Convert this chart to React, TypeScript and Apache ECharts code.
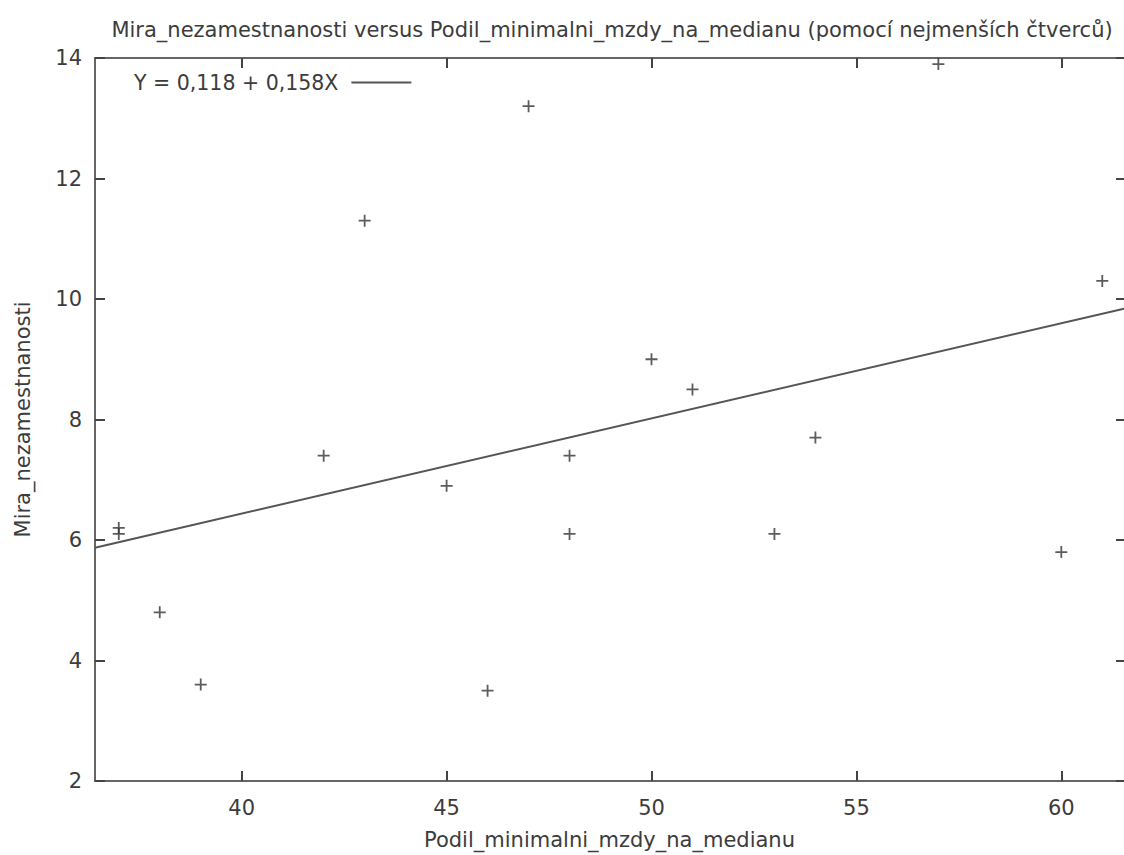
import React, { useEffect, useRef } from "react";
import * as echarts from "echarts";

const xValues = [37, 37, 38, 39, 42, 43, 45, 46, 47, 48, 48, 50, 51, 53, 54, 57, 60, 61];
const yValues = [6.2, 6.1, 4.8, 3.6, 7.4, 11.3, 6.9, 3.5, 13.2, 7.4, 6.1, 9.0, 8.5, 6.1, 7.7, 13.9, 5.8, 10.3];
const intercept = 0.118;
const slope = 0.158;
const xRange = [36.42, 61.53];
const yRange = [2, 14];
const xTicks = [40, 45, 50, 55, 60];
const titleText = "Mira_nezamestnanosti versus Podil_minimalni_mzdy_na_medianu (pomocí nejmenších čtverců)";
const xName = "Podil_minimalni_mzdy_na_medianu";
const yName = "Mira_nezamestnanosti";
const fitName = "Y = 0,118 + 0,158X";

const FONT = "DejaVu Sans";
const FS = 21;
const TXT = "#3c3c3c";
const AX = "#666666";
const PLUS = "path://M4.25,0H5.75V4.25H10V5.75H5.75V10H4.25V5.75H0V4.25H4.25Z";

export default function App() {
  const ref = useRef<HTMLDivElement>(null);
  useEffect(() => {
    if (!ref.current) return;
    const chart = echarts.init(ref.current, undefined, { renderer: "svg" });
    const fitLine = xRange.map((x) => [x, intercept + slope * x]);
    const pts = xValues.map((x, i) => [x, yValues[i]]);
    chart.setOption({
      animation: false,
      backgroundColor: "#ffffff",
      title: {
        text: titleText,
        left: 607,
        textAlign: "center",
        top: 14,
        textStyle: { fontFamily: FONT, fontSize: FS, fontWeight: "normal", color: TXT },
      },
      legend: {
        left: 129,
        top: 67,
        align: "right",
        itemWidth: 60,
        itemHeight: 2,
        icon: "rect",
        data: [{ name: fitName, itemStyle: { color: "#555555" } }],
        textStyle: { fontFamily: FONT, fontSize: 20.5, color: TXT, padding: [0, 8, 0, 0] },
        selectedMode: false,
      },
      grid: { left: 95, right: 0, top: 58, bottom: 72, containLabel: false },
      xAxis: [
        {
          type: "value",
          min: xRange[0],
          max: xRange[1],
          position: "bottom",
          name: xName,
          nameLocation: "middle",
          nameGap: 48,
          nameTextStyle: { fontFamily: FONT, fontSize: FS, color: TXT },
          axisLine: { show: true, onZero: false, lineStyle: { color: AX, width: 2 } },
          axisTick: { show: true, inside: true, length: 10, customValues: xTicks, lineStyle: { color: "#444", width: 2 } },
          axisLabel: { margin: 16, fontFamily: FONT, fontSize: FS, color: TXT, customValues: xTicks, showMinLabel: true, showMaxLabel: true },
          splitLine: { show: false },
        },
        {
          type: "value",
          min: xRange[0],
          max: xRange[1],
          position: "top",
          axisLine: { show: true, onZero: false, lineStyle: { color: AX, width: 2 } },
          axisTick: { show: true, inside: true, length: 10, customValues: xTicks, lineStyle: { color: "#444", width: 2 } },
          axisLabel: { show: false },
          splitLine: { show: false },
        },
      ],
      yAxis: [
        {
          type: "value",
          min: yRange[0],
          max: yRange[1],
          interval: 2,
          position: "left",
          name: yName,
          nameLocation: "middle",
          nameGap: 62,
          nameTextStyle: { fontFamily: FONT, fontSize: FS, color: TXT },
          axisLine: { show: true, onZero: false, lineStyle: { color: AX, width: 2 } },
          axisTick: { show: true, inside: true, length: 10, lineStyle: { color: "#444", width: 2 } },
          axisLabel: { margin: 13, fontFamily: FONT, fontSize: FS, color: TXT },
          splitLine: { show: false },
        },
        {
          type: "value",
          min: yRange[0],
          max: yRange[1],
          interval: 2,
          position: "right",
          axisLine: { show: false },
          axisTick: { show: true, inside: true, length: 8, lineStyle: { color: "#444", width: 2 } },
          axisLabel: { show: false },
          splitLine: { show: false },
        },
      ],
      series: [
        {
          name: fitName,
          type: "line",
          data: fitLine,
          xAxisIndex: 0,
          yAxisIndex: 0,
          showSymbol: false,
          symbol: "none",
          lineStyle: { color: "#555555", width: 2 },
          itemStyle: { color: "#555555" },
          silent: true,
        },
        {
          name: "data",
          type: "scatter",
          data: pts,
          xAxisIndex: 0,
          yAxisIndex: 0,
          symbol: PLUS,
          symbolSize: 12,
          itemStyle: { color: "#333333" },
          silent: true,
        },
      ],
    });
    return () => chart.dispose();
  }, []);
  return (
    <div
      ref={ref}
      style={{ position: "fixed", left: 0, top: 0, width: 1124, height: 855, background: "#fff" }}
    />
  );
}
